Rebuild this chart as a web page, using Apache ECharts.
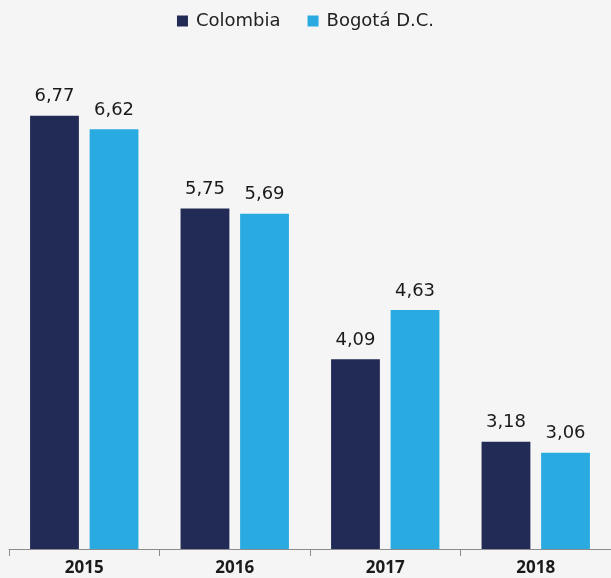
<!DOCTYPE html>
<html><head><meta charset="utf-8">
<script src="https://cdn.jsdelivr.net/npm/echarts@6/dist/echarts.min.js"></script>
<style>html,body{margin:0;padding:0;background:#f5f5f5;}#c{width:611px;height:578px;}</style>
</head><body><div id="c"></div>
<script>
const categories = ['2015','2016','2017','2018'];
const colombia = [6.77, 5.75, 4.09, 3.18];
const bogota = [6.62, 5.69, 4.63, 3.06];
const seriesNames = ['Colombia','Bogotá D.C.'];
const fmt = p => p.value.toFixed(2).replace('.', ',');
const chart = echarts.init(document.getElementById('c'));
const lbl = {show:true, position:'top', distance:10, formatter:fmt, color:'#1a1a1a', fontSize:18, fontFamily:'DejaVu Sans'};
chart.setOption({
  backgroundColor:'#f5f5f5',
  animation:false,
  legend:{top:7, left:'center', itemWidth:11, itemHeight:11, itemGap:27, icon:'rect',
    textStyle:{fontSize:18, color:'#222', fontFamily:'DejaVu Sans', padding:[0,0,0,3]}, data:seriesNames},
  grid:{left:9, right:-1, top:4, bottom:29},
  xAxis:{type:'category', data:categories,
    axisLine:{lineStyle:{color:'#8c8c8c', width:1}},
    axisTick:{show:true, length:7, lineStyle:{color:'#8c8c8c'}},
    axisLabel:{fontSize:17, fontWeight:'bold', color:'#1a1a1a', fontFamily:'Open Sans', margin:11}},
  yAxis:{type:'value', min:2, max:8, show:false, splitLine:{show:false}},
  series:[
    {name:seriesNames[0], type:'bar', data:colombia, itemStyle:{color:'#222b55'}, barGap:'22%', barCategoryGap:'28%', label:lbl},
    {name:seriesNames[1], type:'bar', data:bogota, itemStyle:{color:'#29abe2'}, label:lbl}
  ]
});
</script></body></html>
